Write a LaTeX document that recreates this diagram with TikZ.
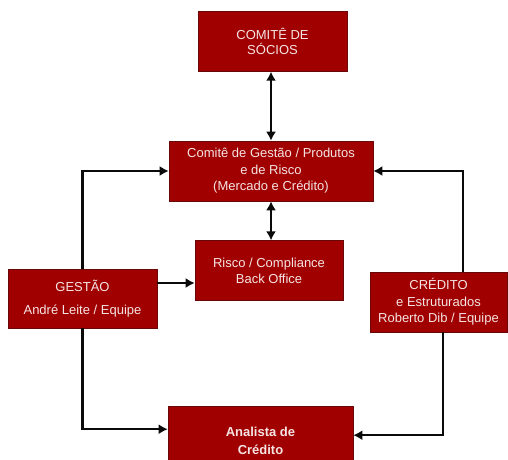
\documentclass[tikz,border=0pt]{standalone}
\usepackage{fontspec}
\setmainfont{Liberation Sans}
\usepackage{xcolor}
\usepackage{tikz}
\usetikzlibrary{arrows.meta,positioning,calc}
\definecolor{orgfill}{RGB}{160,0,0}
\definecolor{orgedge}{RGB}{105,8,8}
\definecolor{orgtext}{RGB}{246,228,228}
\definecolor{orgline}{RGB}{10,10,10}
\tikzset{
  orgbox/.style={
    draw=orgedge, fill=orgfill, line width=0.6pt, text=orgtext,
    align=center, inner sep=2pt, minimum height=60pt,
    font=\fontsize{13}{16.5}\selectfont
  },
  arr/.style={-{Latex[length=9pt,width=10pt]}, draw=orgline, line width=2.3pt},
  darr/.style={{Latex[length=9pt,width=10pt]}-{Latex[length=9pt,width=10pt]}, draw=orgline, line width=2.3pt}
}
\begin{document}
\begin{tikzpicture}[x=1pt, y=1pt, node distance=39pt]
  \useasboundingbox[fill=white] (0,0) rectangle (508,-459);
  \node[orgbox, minimum width=204pt] (comite) at (271,-171)
    {Comitê de Gestão / Produtos\\e de Risco\\(Mercado e Crédito)};
  \node[orgbox, minimum width=149pt, above=69pt of comite, xshift=1.5pt,
    font=\fontsize{13}{14.5}\selectfont] (socios) {COMITÊ DE\\SÓCIOS};
  \node[orgbox, minimum width=148pt, below=of comite, xshift=-2pt] (risco)
    {Risco / Compliance\\Back Office};
  \node[orgbox, minimum width=185pt, minimum height=70pt, below=105pt of risco,
    xshift=-8.5pt, font=\bfseries\fontsize{13}{18}\selectfont] (analista)
    {Analista de\\Crédito};
  \node[orgbox, minimum width=149pt, minimum height=59pt] (gestaoeq)
    at (82.5,-298.5) {GESTÃO\\[6pt]André Leite / Equipe};
  \node[orgbox, minimum width=137pt] (credito) at (438.5,-302)
    {CRÉDITO\\e Estruturados\\Roberto Dib / Equipe};
  % ligacoes
  \draw[darr] (comite.north) -- (comite.north |- socios.south);
  \draw[darr] (comite.south) -- (comite.south |- risco.north);
  \draw[arr] (gestaoeq.north) |- (comite.west);
  \coordinate (g1) at ($(gestaoeq.north east)!0.24!(gestaoeq.south east)$);
  \draw[arr] (g1) -- (risco.west |- g1);
  \draw[arr] (gestaoeq.south) |- ([yshift=12pt]analista.west);
  \draw[arr] ([xshift=24.5pt]credito.north) |- (comite.east);
  \draw[arr] ([xshift=4.5pt]credito.south) |- ([yshift=6pt]analista.east);
\end{tikzpicture}
\end{document}
